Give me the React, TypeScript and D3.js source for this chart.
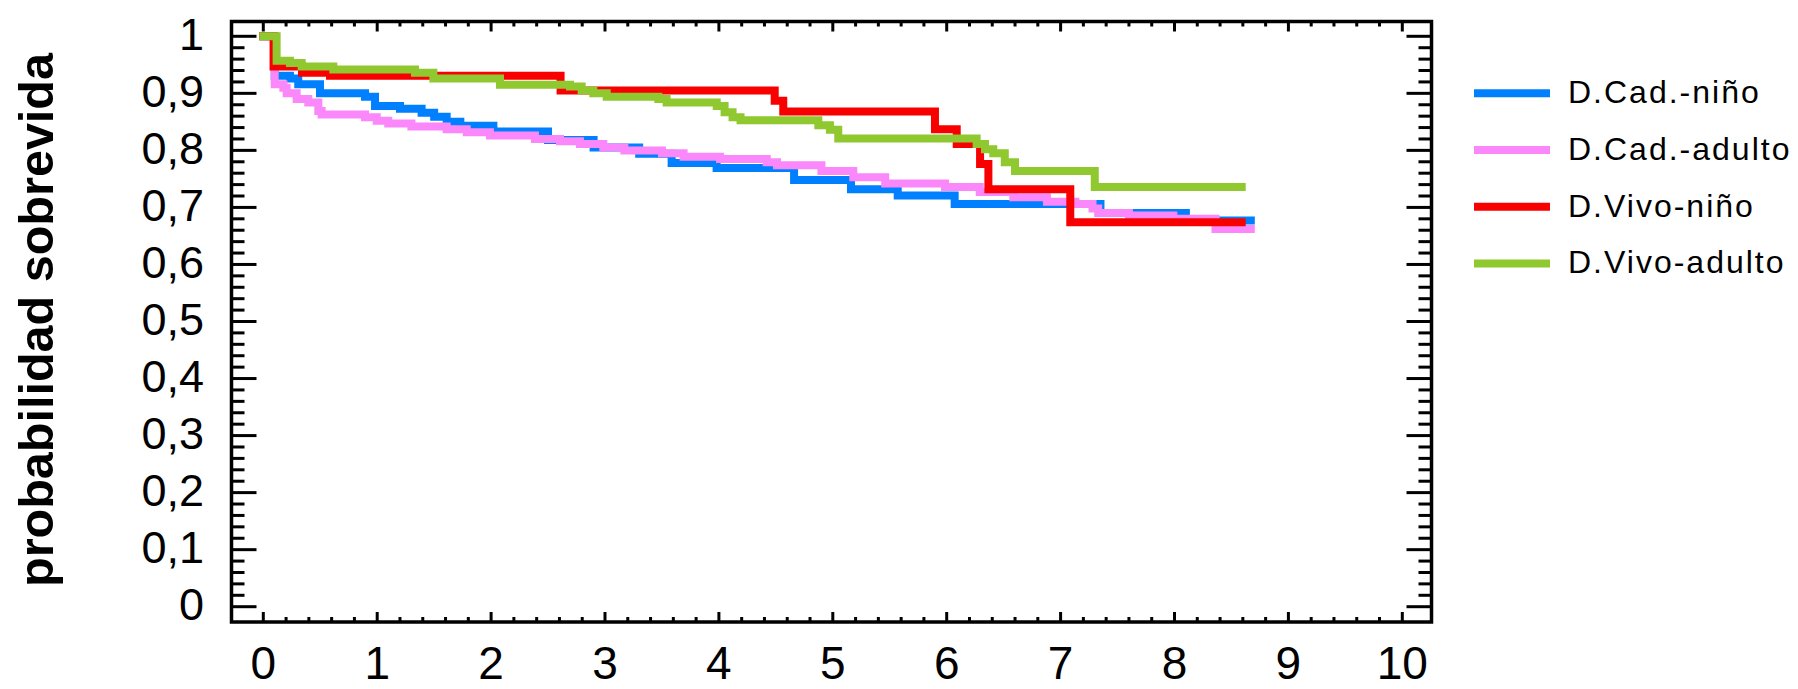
import React from "react";
import * as d3 from "d3";

// ---- data ----
const seriesNames = ["D.Cad.-niño", "D.Cad.-adulto", "D.Vivo-niño", "D.Vivo-adulto"];
const seriesColors = ["#0080FF", "#FA88FA", "#F80000", "#90C830"];

const cadNinoT = [0, 0.1, 0.234, 0.307, 0.498, 0.893, 0.981, 1.2, 1.39, 1.5, 1.61, 1.73, 2.02, 2.5, 2.9, 3.3, 3.585, 3.98, 4.66, 5.16, 5.57, 6.07, 7.35, 8.1];
const cadNinoS = [1, 0.931, 0.926, 0.916, 0.9, 0.894, 0.878, 0.873, 0.866, 0.859, 0.85, 0.843, 0.833, 0.818, 0.805, 0.794, 0.778, 0.769, 0.748, 0.732, 0.721, 0.706, 0.69, 0.677];
const cadNinoEnd = 8.67;

const cadAdultoT = [0, 0.1, 0.176, 0.205, 0.293, 0.395, 0.483, 0.512, 0.893, 0.996, 1.097, 1.3, 1.61, 1.786, 1.99, 2.385, 2.605, 2.78, 2.985, 3.17, 3.5, 3.69, 4.01, 4.42, 4.51, 4.9, 5.18, 5.46, 5.985, 6.29, 6.585, 6.88, 7.13, 7.28, 7.33, 7.6, 7.99, 8.36];
const cadAdultoS = [1, 0.916, 0.91, 0.9, 0.89, 0.884, 0.869, 0.863, 0.858, 0.852, 0.847, 0.842, 0.837, 0.832, 0.826, 0.82, 0.816, 0.811, 0.805, 0.8, 0.795, 0.789, 0.785, 0.779, 0.774, 0.764, 0.753, 0.742, 0.736, 0.727, 0.718, 0.71, 0.706, 0.698, 0.69, 0.686, 0.68, 0.662];
const cadAdultoEnd = 8.67;

const vivoNinoT = [0, 0.09, 0.34, 0.586, 2.61, 4.49, 4.565, 5.897, 6.088, 6.293, 6.366, 7.085];
const vivoNinoS = [1, 0.947, 0.936, 0.931, 0.905, 0.887, 0.868, 0.837, 0.811, 0.776, 0.732, 0.674];
const vivoNinoEnd = 8.59;

const vivoAdultoT = [0, 0.117, 0.234, 0.337, 0.615, 1.332, 1.493, 2.078, 2.693, 2.795, 2.897, 3.015, 3.468, 3.541, 3.981, 4.05, 4.12, 4.19, 4.873, 4.975, 5.048, 6.263, 6.336, 6.409, 6.51, 6.6, 7.3];
const vivoAdultoS = [1, 0.957, 0.953, 0.947, 0.942, 0.936, 0.926, 0.915, 0.912, 0.905, 0.9, 0.894, 0.89, 0.884, 0.878, 0.867, 0.858, 0.853, 0.844, 0.836, 0.821, 0.811, 0.802, 0.795, 0.779, 0.764, 0.736];
const vivoAdultoEnd = 8.59;

const xTickValues = [0, 1, 2, 3, 4, 5, 6, 7, 8, 9, 10];
const xTickLabels = ["0", "1", "2", "3", "4", "5", "6", "7", "8", "9", "10"];
const yTickValues = [0, 0.1, 0.2, 0.3, 0.4, 0.5, 0.6, 0.7, 0.8, 0.9, 1];
const yTickLabels = ["0", "0,1", "0,2", "0,3", "0,4", "0,5", "0,6", "0,7", "0,8", "0,9", "1"];
const yAxisTitle = "probabilidad sobrevida";

// ---- layout ----
const W = 1798;
const H = 689;
const frame = { left: 231.5, right: 1431.5, top: 21.5, bottom: 622 };

export default function App() {
  const x = d3.scaleLinear().domain([0, 10]).range([263.3, 1402.3]);
  const y = d3.scaleLinear().domain([0, 1]).range([606.7, 36.3]);

  const line = d3
    .line<[number, number]>()
    .x((d) => x(d[0]))
    .y((d) => y(d[1]))
    .curve(d3.curveStepAfter);

  const mk = (T: number[], S: number[], end: number): [number, number][] => {
    const pts: [number, number][] = T.map((t, i) => [t, S[i]]);
    pts.push([end, S[S.length - 1]]);
    return pts;
  };

  const series = [
    mk(cadNinoT, cadNinoS, cadNinoEnd),
    mk(cadAdultoT, cadAdultoS, cadAdultoEnd),
    mk(vivoNinoT, vivoNinoS, vivoNinoEnd),
    mk(vivoAdultoT, vivoAdultoS, vivoAdultoEnd),
  ];

  const xMinor = d3.range(0, 51).map((i) => i / 5).filter((v) => Math.abs(v - Math.round(v)) > 1e-6);
  const yMinor = d3.range(0, 51).map((i) => i / 50).filter((v) => Math.abs(v * 10 - Math.round(v * 10)) > 1e-6);

  const tickStroke = 3;
  const font = "'Liberation Sans', Arial, Helvetica, sans-serif";

  const legendX0 = 1474;
  const legendX1 = 1550;
  const legendY0 = 93.3;
  const legendDy = 56.7;

  return (
    <svg
      width={W}
      height={H}
      style={{ position: "absolute", left: 0, top: 0, display: "block", background: "#fff" }}
    >
      <rect x={0} y={0} width={W} height={H} fill="#fff" />
      <defs>
        <clipPath id="plotclip">
          <rect x={frame.left} y={frame.top} width={frame.right - frame.left} height={frame.bottom - frame.top} />
        </clipPath>
      </defs>
      {/* curves */}
      <g clipPath="url(#plotclip)">
        {series.map((pts, i) => (
          <path
            key={i}
            d={line(pts) || ""}
            fill="none"
            stroke={seriesColors[i]}
            strokeWidth={8}
            strokeLinejoin="miter"
            strokeLinecap="square"
          />
        ))}
      </g>

      {/* ticks */}
      <g stroke="#000" strokeWidth={tickStroke}>
        {xTickValues.map((v) => (
          <g key={"xM" + v}>
            <line x1={x(v)} x2={x(v)} y1={frame.bottom} y2={frame.bottom - 10} />
            <line x1={x(v)} x2={x(v)} y1={frame.top} y2={frame.top + 10} />
          </g>
        ))}
        {xMinor.map((v) => (
          <g key={"xm" + v}>
            <line x1={x(v)} x2={x(v)} y1={frame.bottom} y2={frame.bottom - 5} />
            <line x1={x(v)} x2={x(v)} y1={frame.top} y2={frame.top + 5} />
          </g>
        ))}
        {yTickValues.map((v) => (
          <g key={"yM" + v}>
            <line x1={frame.left} x2={frame.left + 25} y1={y(v)} y2={y(v)} />
            <line x1={frame.right} x2={frame.right - 25} y1={y(v)} y2={y(v)} />
          </g>
        ))}
        {yMinor.map((v) => (
          <g key={"ym" + v}>
            <line x1={frame.left} x2={frame.left + 13} y1={y(v)} y2={y(v)} />
            <line x1={frame.right} x2={frame.right - 13} y1={y(v)} y2={y(v)} />
          </g>
        ))}
      </g>

      {/* frame */}
      <rect
        x={frame.left}
        y={frame.top}
        width={frame.right - frame.left}
        height={frame.bottom - frame.top}
        fill="none"
        stroke="#000"
        strokeWidth={3.5}
      />

      {/* tick labels */}
      <g fontFamily={font} fill="#000">
        {yTickValues.map((v, i) => (
          <text key={"yl" + v} x={204} y={y(v) + 13.5} fontSize={45} textAnchor="end">
            {yTickLabels[i]}
          </text>
        ))}
        {xTickValues.map((v, i) => (
          <text key={"xl" + v} x={x(v)} y={679} fontSize={46} textAnchor="middle">
            {xTickLabels[i]}
          </text>
        ))}
      </g>

      {/* y axis title */}
      <text
        transform={`translate(53.3, 320) rotate(-90)`}
        textAnchor="middle"
        fontFamily={font}
        fontWeight="bold"
        fontSize={48}
        textLength={534}
        lengthAdjust="spacingAndGlyphs"
        fill="#000"
      >
        {yAxisTitle}
      </text>

      {/* legend */}
      <g>
        {seriesNames.map((name, i) => (
          <g key={name}>
            <line
              x1={legendX0}
              x2={legendX1}
              y1={legendY0 + i * legendDy}
              y2={legendY0 + i * legendDy}
              stroke={seriesColors[i]}
              strokeWidth={8}
            />
            <text
              x={1568}
              y={legendY0 + i * legendDy + 10}
              fontFamily={font}
              fontSize={32}
              letterSpacing={2}
              fill="#000"
            >
              {name}
            </text>
          </g>
        ))}
      </g>
    </svg>
  );
}
